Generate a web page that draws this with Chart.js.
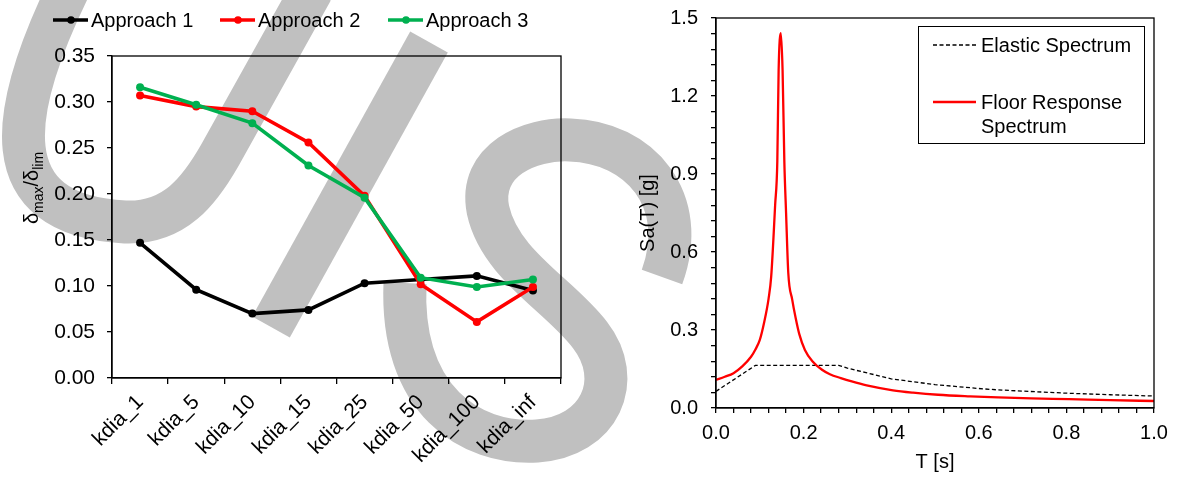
<!DOCTYPE html>
<html>
<head>
<meta charset="utf-8">
<script src="https://cdn.jsdelivr.net/npm/chart.js@4.4.1/dist/chart.umd.min.js"></script>
<style>
  html, body { margin: 0; padding: 0; background: #fff; }
  #wrap { position: relative; width: 1188px; height: 478px; overflow: hidden; }
  #mark { position: absolute; left: 0; top: 0; }
  #leftBox { position: absolute; left: 0; top: 0; width: 590px; height: 478px; }
  #rightBox { position: absolute; left: 590px; top: 0; width: 598px; height: 478px; }
</style>
</head>
<body>
<div id="wrap">
  <canvas id="mark" width="1188" height="478"></canvas>
  <div id="leftBox"><canvas id="stiffChart"></canvas></div>
  <div id="rightBox"><canvas id="spectrumChart"></canvas></div>
</div>
<script>
// left chart data
const categories = ["kdia_1", "kdia_5", "kdia_10", "kdia_15", "kdia_25", "kdia_50", "kdia_100", "kdia_inf"];
const approach1 = [0.147, 0.096, 0.070, 0.074, 0.103, 0.107, 0.111, 0.095];
const approach2 = [0.307, 0.295, 0.290, 0.256, 0.198, 0.102, 0.061, 0.099];
const approach3 = [0.316, 0.297, 0.277, 0.231, 0.196, 0.109, 0.099, 0.107];
const ratioTicks = [0, 0.05, 0.10, 0.15, 0.20, 0.25, 0.30, 0.35];

// right chart data
const elasticT = [0, 0.09, 0.28, 0.30, 0.34, 0.40, 0.50, 0.60, 0.64, 0.70, 0.80, 0.90, 1.0];
const elasticSa = [0.064, 0.164, 0.164, 0.153, 0.137, 0.112, 0.090, 0.075, 0.070, 0.065, 0.057, 0.051, 0.046];
const floorT = [0, 0.02, 0.04, 0.06, 0.08, 0.09, 0.10, 0.11, 0.12, 0.126, 0.135, 0.140, 0.143, 0.148,
  0.152, 0.156, 0.160, 0.165, 0.174, 0.182, 0.19, 0.203, 0.22, 0.242, 0.26, 0.285, 0.31, 0.344,
  0.404, 0.45, 0.507, 0.58, 0.644, 0.72, 0.806, 0.90, 1.0];
const floorSa = [0.108, 0.120, 0.134, 0.160, 0.197, 0.225, 0.262, 0.330, 0.420, 0.505, 0.780, 0.950, 1.300, 1.442,
  1.300, 0.950, 0.750, 0.520, 0.417, 0.345, 0.285, 0.223, 0.180, 0.147, 0.130, 0.115, 0.102, 0.087,
  0.068, 0.059, 0.051, 0.045, 0.041, 0.037, 0.034, 0.030, 0.027];
const periodTicks = [0, 0.2, 0.4, 0.6, 0.8, 1.0];
const saTicks = [0, 0.3, 0.6, 0.9, 1.2, 1.5];

const FONT = "'Liberation Sans', Arial, sans-serif";
Chart.defaults.font.family = FONT;
Chart.defaults.font.size = 20;
Chart.defaults.color = "#000";

// grey watermark behind both charts
const wm = document.getElementById("mark").getContext("2d");
wm.strokeStyle = "#c0c0c0";
wm.lineWidth = 43;
wm.lineCap = "butt";
wm.beginPath();
wm.moveTo(68, -10);
wm.bezierCurveTo(10, 110, -10, 215, 125, 222);
wm.bezierCurveTo(175, 224, 200, 190, 220, 155);
wm.lineTo(312, -10);
wm.stroke();
wm.beginPath();
wm.moveTo(429, 42);
wm.lineTo(271, 327);
wm.stroke();
wm.beginPath();
wm.moveTo(405, 283);
wm.bezierCurveTo(400, 400, 470, 445, 537, 441);
wm.bezierCurveTo(600, 437, 625, 380, 590, 335);
wm.bezierCurveTo(560, 295, 500, 265, 488, 210);
wm.bezierCurveTo(478, 160, 530, 138, 570, 140);
wm.bezierCurveTo(640, 142, 690, 200, 662, 277);
wm.stroke();

function minorTicks(majors, parts) {
  const out = [];
  for (let i = 0; i < majors.length - 1; i++) {
    for (let k = 0; k < parts; k++) {
      out.push({ value: majors[i] + (majors[i + 1] - majors[i]) * k / parts, major: k === 0 });
    }
  }
  out.push({ value: majors[majors.length - 1], major: true });
  return out;
}

const frameLeft = {
  id: "frameLeft",
  afterDraw(chart) {
    const { ctx, chartArea: a } = chart;
    ctx.save();
    ctx.strokeStyle = "#000";
    ctx.lineWidth = 1.3;
    ctx.strokeRect(a.left, a.top, a.right - a.left, a.bottom - a.top);

    // legend
    const items = [[53, 91], [220, 258], [388, 426]];
    ctx.font = "20px " + FONT;
    ctx.textBaseline = "middle";
    chart.data.datasets.forEach((ds, i) => {
      const [x0, tx] = items[i];
      ctx.strokeStyle = ds.borderColor;
      ctx.lineWidth = 3.5;
      ctx.beginPath();
      ctx.moveTo(x0, 20);
      ctx.lineTo(x0 + 35, 20);
      ctx.stroke();
      ctx.fillStyle = ds.borderColor;
      ctx.beginPath();
      ctx.arc(x0 + 18, 20, 3.8, 0, Math.PI * 2);
      ctx.fill();
      ctx.fillStyle = "#000";
      ctx.fillText(ds.label, tx, 21);
    });

    // y title with subscripts
    const parts = [["\u03b4", 20, 0], ["max", 14, 5], ["/\u03b4", 20, 0], ["lim", 14, 5]];
    let total = 0;
    parts.forEach(p => { ctx.font = p[1] + "px " + FONT; p.push(ctx.measureText(p[0]).width); total += p[3]; });
    ctx.translate(34, 188);
    ctx.rotate(-Math.PI / 2);
    ctx.textBaseline = "alphabetic";
    let x = -total / 2;
    parts.forEach(p => {
      ctx.font = p[1] + "px " + FONT;
      ctx.fillText(p[0], x, 4 + p[2]);
      x += p[3];
    });
    ctx.restore();
  }
};

new Chart(document.getElementById("stiffChart"), {
  type: "line",
  data: {
    labels: categories,
    datasets: [
      { label: "Approach 1", data: approach1, borderColor: "#000000", backgroundColor: "#000000", order: 3 },
      { label: "Approach 2", data: approach2, borderColor: "#ff0000", backgroundColor: "#ff0000", order: 2 },
      { label: "Approach 3", data: approach3, borderColor: "#00b050", backgroundColor: "#00b050", order: 1 }
    ]
  },
  options: {
    responsive: true,
    maintainAspectRatio: false,
    animation: false,
    layout: { padding: { top: 56, right: 29, left: 0, bottom: 0 } },
    elements: {
      line: { borderWidth: 3.6, tension: 0 },
      point: { radius: 4, borderWidth: 0, hoverRadius: 5 }
    },
    plugins: { legend: { display: false }, tooltip: { enabled: false } },
    scales: {
      x: {
        offset: true,
        grid: { offset: true, drawOnChartArea: false, tickLength: 6, color: "#000", lineWidth: 1.3 },
        border: { color: "#000", width: 1.3 },
        ticks: { minRotation: 45, maxRotation: 45, autoSkip: false, padding: 6, font: { size: 21 } },
        afterFit: s => { s.height = 100; s.paddingLeft = 0; s.paddingRight = 0; }
      },
      y: {
        min: 0,
        max: 0.35,
        afterBuildTicks: s => { s.ticks = ratioTicks.map(v => ({ value: v })); },
        grid: { drawOnChartArea: false, tickLength: 5, color: "#000", lineWidth: 1.3 },
        border: { color: "#000", width: 1.3 },
        ticks: { padding: 12, callback: v => v.toFixed(2), font: { size: 21 } },
        afterFit: s => { s.width = 112; s.paddingTop = 0; s.paddingBottom = 0; }
      }
    }
  },
  plugins: [frameLeft]
});

const frameRight = {
  id: "frameRight",
  afterDraw(chart) {
    const { ctx, chartArea: a } = chart;
    ctx.save();
    ctx.strokeStyle = "#000";
    ctx.lineWidth = 1.3;
    ctx.strokeRect(a.left, a.top, a.right - a.left, a.bottom - a.top);

    // legend box
    ctx.fillStyle = "#fff";
    ctx.fillRect(328, 26, 226, 117);
    ctx.lineWidth = 1;
    ctx.strokeRect(328.5, 26.5, 226, 117);
    const [el, fl] = chart.data.datasets;
    ctx.strokeStyle = el.borderColor;
    ctx.lineWidth = el.borderWidth;
    ctx.setLineDash(el.borderDash);
    ctx.beginPath();
    ctx.moveTo(343, 45);
    ctx.lineTo(386, 45);
    ctx.stroke();
    ctx.setLineDash([]);
    ctx.strokeStyle = fl.borderColor;
    ctx.lineWidth = fl.borderWidth;
    ctx.beginPath();
    ctx.moveTo(343, 102);
    ctx.lineTo(386, 102);
    ctx.stroke();
    ctx.fillStyle = "#000";
    ctx.font = "20px " + FONT;
    ctx.textBaseline = "middle";
    ctx.fillText("Elastic Spectrum", 391, 46);
    ctx.fillText("Floor Response", 391, 103);
    ctx.fillText("Spectrum", 391, 127);
    ctx.restore();
  }
};

new Chart(document.getElementById("spectrumChart"), {
  type: "line",
  data: {
    datasets: [
      {
        label: "Elastic Spectrum",
        data: elasticT.map((t, i) => ({ x: t, y: elasticSa[i] })),
        borderColor: "#000", borderWidth: 1.3, borderDash: [4, 2.5], tension: 0, order: 2
      },
      {
        label: "Floor Response Spectrum",
        data: floorT.map((t, i) => ({ x: t, y: floorSa[i] })),
        borderColor: "#ff0000", borderWidth: 2.3, cubicInterpolationMode: "monotone", order: 1
      }
    ]
  },
  options: {
    responsive: true,
    maintainAspectRatio: false,
    animation: false,
    layout: { padding: { top: 18, right: 34, left: 0, bottom: 0 } },
    elements: { point: { radius: 0, hoverRadius: 0 } },
    plugins: { legend: { display: false }, tooltip: { enabled: false } },
    scales: {
      x: {
        type: "linear",
        min: 0,
        max: 1,
        afterBuildTicks: s => { s.ticks = minorTicks(periodTicks, 5); },
        grid: { drawOnChartArea: false, tickLength: 5, color: "#000", lineWidth: 1.3 },
        border: { color: "#000", width: 1.3 },
        ticks: { autoSkip: false, maxRotation: 0, padding: 8,
          callback: (v, i, t) => t[i].major ? v.toFixed(1) : "" },
        title: { display: true, text: "T [s]", padding: { top: 0, bottom: 4 } },
        afterFit: s => { s.height = 70; s.paddingLeft = 0; s.paddingRight = 0; }
      },
      y: {
        min: 0,
        max: 1.5,
        afterBuildTicks: s => { s.ticks = minorTicks(saTicks, 5); },
        grid: { drawOnChartArea: false, tickLength: 5, color: "#000", lineWidth: 1.3 },
        border: { color: "#000", width: 1.3 },
        ticks: { autoSkip: false, padding: 13,
          callback: (v, i, t) => t[i].major ? v.toFixed(1) : "" },
        title: { display: true, text: "Sa(T) [g]", padding: { top: 46, bottom: 0 } },
        afterFit: s => { s.width = 126; s.paddingTop = 0; s.paddingBottom = 0; }
      }
    }
  },
  plugins: [frameRight]
});
</script>
</body>
</html>
